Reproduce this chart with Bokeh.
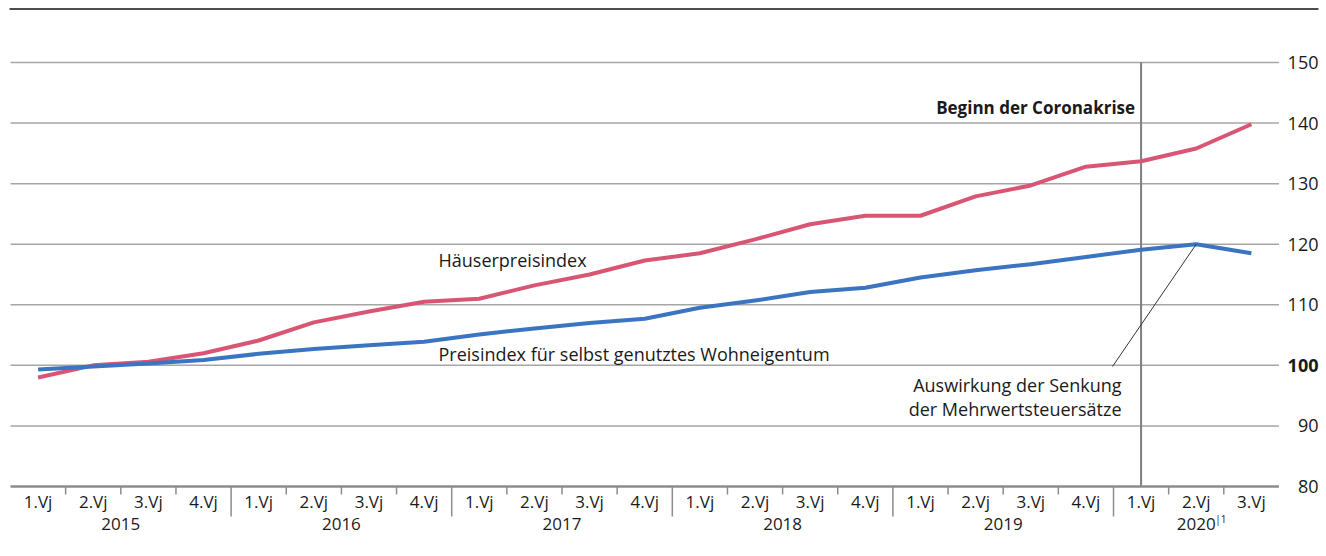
from bokeh.plotting import figure
from bokeh.models import Range1d
from bokeh.core.properties import value
from bokeh.embed import file_html
from bokeh.resources import INLINE

# ---------------- data ----------------
years = ["2015", "2016", "2017", "2018", "2019", "2020"]
quarters_per_year = [4, 4, 4, 4, 4, 3]
quarter_labels = ["1.Vj", "2.Vj", "3.Vj", "4.Vj"] * 5 + ["1.Vj", "2.Vj", "3.Vj"]

haeuserpreisindex = [98.0, 100.0, 100.6, 102.0, 104.1, 107.1, 108.9, 110.5,
                     111.0, 113.2, 115.0, 117.3, 118.5, 120.8, 123.3, 124.7,
                     124.7, 127.9, 129.7, 132.8, 133.7, 135.8, 139.8]
wohneigentum = [99.3, 99.8, 100.3, 100.9, 101.9, 102.7, 103.3, 103.9,
                105.1, 106.1, 107.0, 107.7, 109.5, 110.7, 112.1, 112.8,
                114.5, 115.7, 116.7, 117.9, 119.1, 120.0, 118.5]
y_ticks = [80, 90, 100, 110, 120, 130, 140, 150]
corona_quarter = 20        # 1.Vj 2020
vat_quarter = 21           # 2.Vj 2020

FONT = "Open Sans"
RED = "#d95574"
BLUE = "#3b74c0"
GRID = "#a6a6a6"
AXIS = "#8c8c8c"
TXT = "#1a1a1a"

n = len(quarter_labels)
xs = [i + 0.5 for i in range(n)]

# geometry: 55.15 px per quarter, 6.057 px per index point
W, H = 1320, 548
px_x = 55.15
px_y = 6.057
x0 = -10 / px_x
x1 = x0 + W / px_x
y1 = 150 + 62 / px_y
y0 = y1 - H / px_y

p = figure(width=W, height=H, x_range=Range1d(x0, x1), y_range=Range1d(y0, y1),
           output_backend="svg", toolbar_location=None, min_border=0,
           x_axis_location=None, y_axis_location=None)
p.grid.visible = False
p.outline_line_color = None
p.background_fill_color = "white"
p.border_fill_color = "white"

# top rule
p.segment(x0=[x0 + 9 / px_x], x1=[x0 + 1318 / px_x], y0=[y1 - 8.5 / px_y], y1=[y1 - 8.5 / px_y],
          line_color="#4d4d4d", line_width=2)

# gridlines
grid_y = [t for t in y_ticks if t > 80]
p.segment(x0=[0] * len(grid_y), x1=[n] * len(grid_y), y0=grid_y, y1=grid_y,
          line_color=GRID, line_width=1.5)

# y tick labels (right side, right-aligned); 100 in bold
label_x = x0 + 1318 / px_x
normal = [t for t in y_ticks if t != 100]
p.text(x=[label_x] * len(normal), y=normal, text=[str(t) for t in normal],
       text_align="right", text_baseline="middle", text_font=value(FONT),
       text_font_size="18px", text_color=TXT)
p.text(x=[label_x], y=[100], text=["100"], text_align="right", text_baseline="middle",
       text_font=value(FONT), text_font_size="18px", text_font_style="bold",
       text_color=TXT)

# Corona vertical line
cx = corona_quarter + 0.5
p.segment(x0=[cx], x1=[cx], y0=[80], y1=[150], line_color="#7f7f7f", line_width=2)

# x axis line
p.segment(x0=[0], x1=[n], y0=[80], y1=[80], line_color=AXIS, line_width=2.5)

# quarter ticks and year separators
boundaries = []
acc = 0
for q in quarters_per_year[:-1]:
    acc += q
    boundaries.append(acc)
minor = [i for i in range(1, n) if i not in boundaries]
p.segment(x0=minor, x1=minor, y0=[80] * len(minor), y1=[80 - 8 / px_y] * len(minor),
          line_color=AXIS, line_width=1.5)
p.segment(x0=boundaries, x1=boundaries, y0=[80] * len(boundaries),
          y1=[80 - 30 / px_y] * len(boundaries), line_color=AXIS, line_width=1.5)

# quarter labels
q_y = 80 - 15 / px_y
p.text(x=xs, y=[q_y] * n, text=quarter_labels, text_align="center", text_baseline="middle",
       text_font=value(FONT), text_font_size="17px", text_color=TXT)

# year labels
year_x = []
acc = 0
for q in quarters_per_year:
    year_x.append(acc + q / 2)
    acc += q
yr_y = 80 - 38 / px_y
p.text(x=year_x, y=[yr_y] * len(years), text=years, text_align="center",
       text_baseline="middle", text_font=value(FONT), text_font_size="17px",
       text_color=TXT)
p.text(x=[year_x[-1] + 19 / px_x], y=[yr_y + 5 / px_y], text=["|1"], text_align="left",
       text_baseline="middle", text_font=value(FONT), text_font_size="10px",
       text_color=TXT)

# series lines
p.line(xs, haeuserpreisindex, line_color=RED, line_width=4, line_join="round")
p.line(xs, wohneigentum, line_color=BLUE, line_width=4, line_join="round")

# annotations
p.text(x=[cx - 6 / px_x], y=[150 - 45 / px_y], text=["Beginn der Coronakrise"],
       text_align="right", text_baseline="middle", text_font=value(FONT),
       text_font_size="17px", text_font_style="bold", text_color=TXT)
p.text(x=[(438 - 10) / px_x], y=[150 - 197 / px_y], text=["Häuserpreisindex"],
       text_align="left", text_baseline="middle", text_font=value(FONT),
       text_font_size="18px", text_color=TXT)
p.text(x=[(438 - 10) / px_x], y=[150 - 291 / px_y], text=["Preisindex für selbst genutztes Wohneigentum"],
       text_align="left", text_baseline="middle", text_font=value(FONT),
       text_font_size="18px", text_color=TXT)
p.text(x=[(1121 - 10) / px_x] * 2, y=[150 - 322 / px_y, 150 - 346 / px_y],
       text=["Auswirkung der Senkung", "der Mehrwertsteuersätze"],
       text_align="right", text_baseline="middle", text_font=value(FONT),
       text_font_size="18px", text_color=TXT)
# leader line to the 2.Vj 2020 point
p.segment(x0=[(1112 - 10) / px_x], y0=[150 - 304 / px_y],
          x1=[vat_quarter + 0.5], y1=[wohneigentum[vat_quarter]],
          line_color="#333333", line_width=1)

open("out.html", "w").write(file_html(p, INLINE))
